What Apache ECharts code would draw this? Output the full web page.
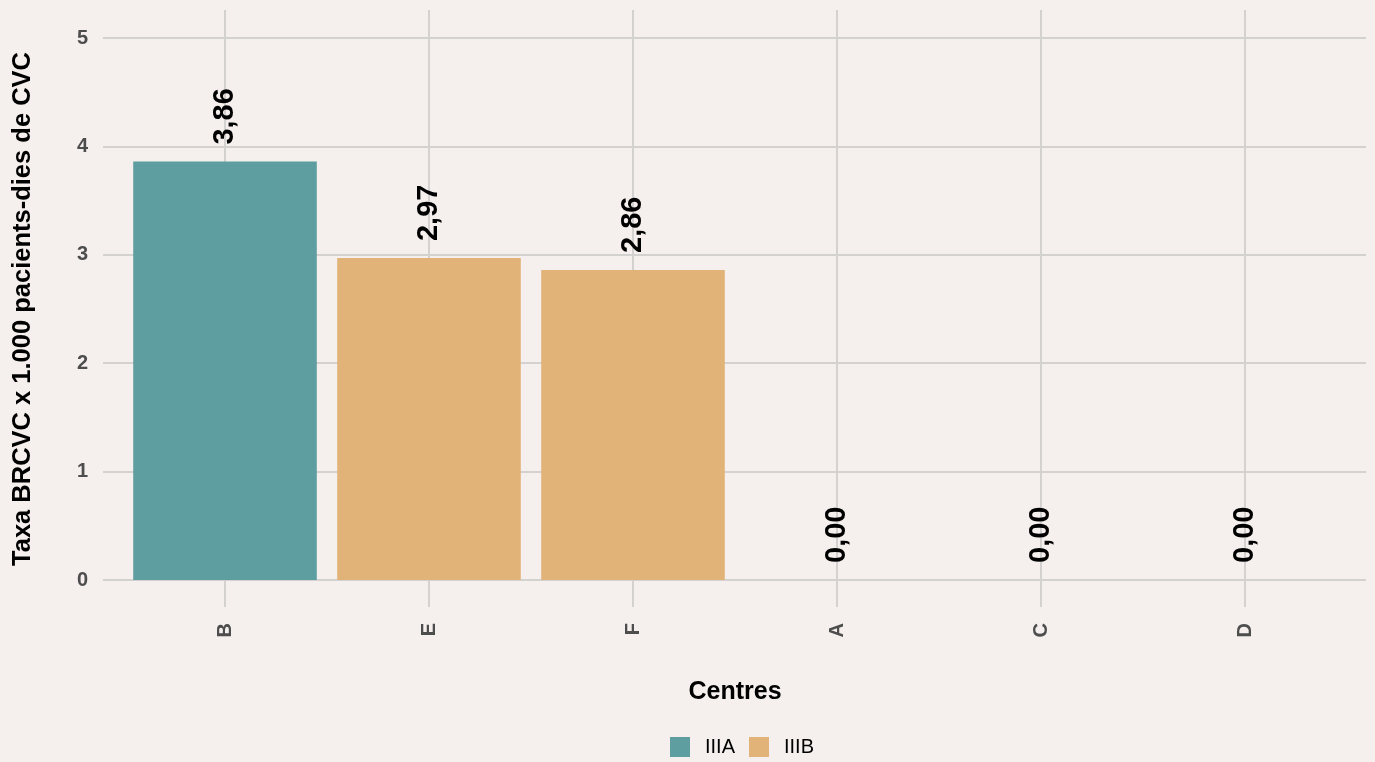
<!DOCTYPE html>
<html>
<head>
<meta charset="utf-8">
<script src="https://cdn.jsdelivr.net/npm/echarts@6/dist/echarts.min.js"></script>
<style>
  html, body { margin: 0; padding: 0; background: #F5F0ED; }
  #chart { width: 1375px; height: 762px; }
</style>
</head>
<body>
<div id="chart"></div>
<script>
// Central line-associated bloodstream infection rate per centre
const centres = ['B', 'E', 'F', 'A', 'C', 'D'];
const rates = [3.86, 2.97, 2.86, 0.00, 0.00, 0.00];
const groups = ['IIIA', 'IIIB', 'IIIB', 'IIIB', 'IIIB', 'IIIB'];
const groupNames = ['IIIA', 'IIIB'];
const groupColors = { IIIA: '#5F9EA0', IIIB: '#E1B378' };
const yTicks = [0, 1, 2, 3, 4, 5];

const FONT = 'Liberation Sans, Arial, sans-serif';
const GRID_COLOR = '#D4D2D1';

// panel edges; the category band is inset so outer categories get extra room
const PANEL = { left: 103, right: 9, top: 10, bottom: 182 };
const BAND = { left: 123, right: 28 };
const STEP = (1375 - BAND.left - BAND.right) / centres.length;
const DATA_TOP = 38;

const chart = echarts.init(document.getElementById('chart'));

const series = groupNames.map(g => ({
  name: g,
  type: 'bar',
  xAxisIndex: 1,
  yAxisIndex: 1,
  barWidth: '90%',
  barGap: '-100%',
  itemStyle: { color: groupColors[g] },
  data: rates.map((v, i) => groups[i] === g ? v : null),
  label: {
    show: true,
    position: 'top',
    distance: 17,
    rotate: 90,
    align: 'left',
    verticalAlign: 'middle',
    fontFamily: FONT,
    fontWeight: 'bold',
    fontSize: 29,
    color: '#000',
    formatter: p => p.value.toFixed(2).replace('.', ',')
  }
}));

const gridBase = { outerBoundsMode: 'none', containLabel: false };

chart.setOption({
  backgroundColor: '#F5F0ED',
  animation: false,
  textStyle: { fontFamily: FONT },
  legend: {
    data: groupNames,
    left: 665,
    top: 732,
    itemWidth: 20,
    itemHeight: 20,
    itemGap: 14,
    icon: 'rect',
    textStyle: { fontSize: 20, color: '#000', fontFamily: FONT, padding: [0, 0, 0, 10] }
  },
  grid: [
    // vertical grid lines through category centres, over the full panel height
    Object.assign({ left: BAND.left + STEP / 2, right: BAND.right + STEP / 2, top: PANEL.top, bottom: PANEL.bottom }, gridBase),
    // bars
    Object.assign({ left: BAND.left, right: BAND.right, top: DATA_TOP, bottom: PANEL.bottom }, gridBase),
    // horizontal grid lines and value labels across the full panel width
    Object.assign({ left: PANEL.left, right: PANEL.right, top: DATA_TOP, bottom: PANEL.bottom }, gridBase)
  ],
  xAxis: [
    {
      gridIndex: 0,
      type: 'category',
      data: centres,
      boundaryGap: false,
      axisLine: { show: false },
      axisTick: { show: false },
      axisLabel: { show: false },
      splitLine: { show: true, interval: 0, lineStyle: { color: GRID_COLOR, width: 2 } }
    },
    {
      gridIndex: 1,
      type: 'category',
      data: centres,
      name: 'Centres',
      nameLocation: 'middle',
      nameGap: 100,
      nameTextStyle: { fontSize: 25, fontWeight: 'bold', color: '#000', fontFamily: FONT },
      axisLine: { show: false },
      axisTick: { show: true, alignWithLabel: true, length: 27, lineStyle: { color: GRID_COLOR, width: 2 } },
      axisLabel: {
        rotate: 90,
        margin: 43,
        fontSize: 20,
        fontWeight: 'bold',
        color: '#4D4D4D',
        fontFamily: FONT
      },
      splitLine: { show: false }
    },
    {
      gridIndex: 2,
      type: 'value',
      show: false,
      splitLine: { show: false }
    }
  ],
  yAxis: [
    {
      gridIndex: 0,
      type: 'value',
      min: 0,
      max: 1,
      show: false,
      splitLine: { show: false }
    },
    {
      gridIndex: 1,
      type: 'value',
      min: yTicks[0],
      max: yTicks[yTicks.length - 1],
      interval: 1,
      show: false,
      splitLine: { show: false }
    },
    {
      gridIndex: 2,
      type: 'value',
      min: yTicks[0],
      max: yTicks[yTicks.length - 1],
      interval: 1,
      name: 'Taxa BRCVC x 1.000 pacients-dies de CVC',
      nameLocation: 'middle',
      nameGap: 67,
      nameTextStyle: { fontSize: 25.5, fontWeight: 'bold', color: '#000', fontFamily: FONT },
      axisLine: { show: false },
      axisTick: { show: false },
      axisLabel: { margin: 15, fontSize: 20, fontWeight: 'bold', color: '#4D4D4D', fontFamily: FONT },
      splitLine: { show: true, lineStyle: { color: GRID_COLOR, width: 2 } }
    }
  ],
  series: series
});
</script>
</body>
</html>
